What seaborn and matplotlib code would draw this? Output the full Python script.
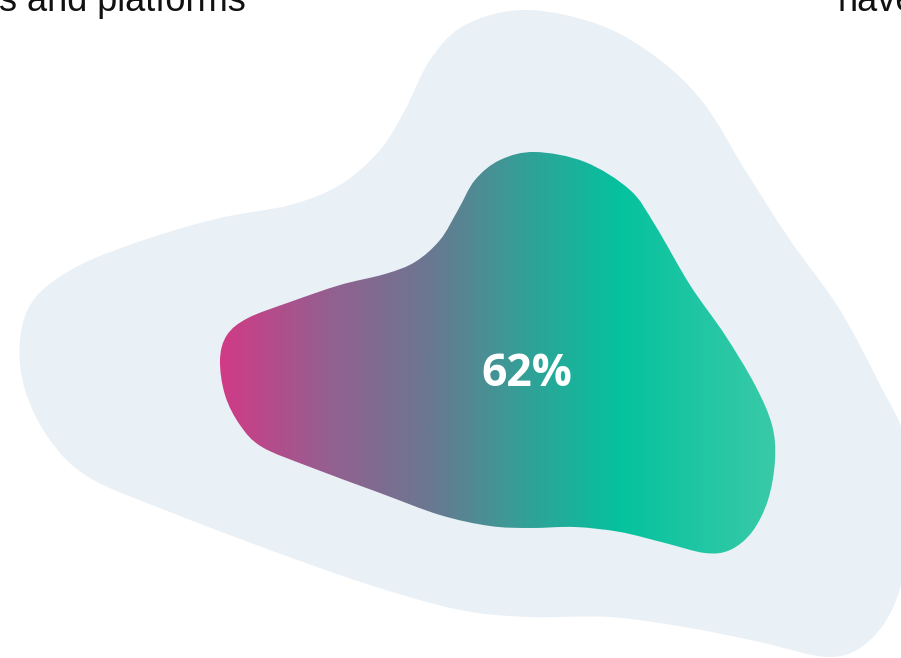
import numpy as np
import seaborn as sns
import matplotlib.pyplot as plt
from matplotlib.path import Path
from matplotlib.patches import PathPatch
from matplotlib.colors import LinearSegmentedColormap

plt.switch_backend("Agg")

# headline value
value_label = "62%"

# outline key points of the background blob (pixel coords, y down)
outer_x = [525, 600, 660, 705, 745, 790, 840, 880, 905, 910, 898, 870, 830, 760, 690,
           610, 530, 460, 370, 270, 170, 90, 50, 25, 20, 35, 80, 150, 220, 290, 340,
           380, 405, 430, 465]
outer_y = [10, 25, 60, 105, 170, 240, 310, 385, 440, 520, 595, 640, 657, 642, 628,
           617, 617, 610, 585, 550, 512, 478, 440, 390, 340, 298, 265, 238, 218, 205,
           185, 150, 110, 60, 25]

# outline key points of the gradient blob
inner_x = [535, 585, 630, 655, 690, 725, 755, 772, 775, 768, 752, 730, 705, 665, 620,
           575, 530, 490, 440, 380, 310, 262, 240, 225, 220, 227, 248, 290, 340,
           385, 415, 440, 458, 475, 500]
inner_y = [152, 162, 190, 225, 285, 335, 385, 425, 460, 500, 532, 550, 553, 543, 532,
           527, 528, 526, 515, 493, 467, 447, 425, 395, 360, 335, 318, 302, 285,
           274, 262, 240, 210, 180, 160]

# gradient stops (position across the blob, colour)
grad_pos = [0.0, 0.2, 0.38, 0.56, 0.72, 1.0]
grad_col = ["#d23a86", "#936090", "#6a7890", "#2fa298", "#05c29e", "#3acaa8"]


def blob_path(xs, ys):
    # closed Catmull-Rom outline turned into cubic Bezier segments
    pts = np.column_stack([xs, ys]).astype(float)
    n = len(pts)
    verts = [pts[0]]
    codes = [Path.MOVETO]
    for i in range(n):
        p0, p1, p2, p3 = pts[i - 1], pts[i], pts[(i + 1) % n], pts[(i + 2) % n]
        verts += [p1 + (p2 - p0) / 6, p2 - (p3 - p1) / 6, p2]
        codes += [Path.CURVE4] * 3
    return Path(verts, codes)


sns.set_theme(style="white")

fig = plt.figure(figsize=(9.01, 6.58), dpi=100)
ax = fig.add_axes([0, 0, 1, 1])
ax.set_xlim(0, 901)
ax.set_ylim(658, 0)
ax.axis("off")

outer = PathPatch(blob_path(outer_x, outer_y), facecolor="#e9f0f6", edgecolor="none")
ax.add_patch(outer)

inner_path = blob_path(inner_x, inner_y)
inner = PathPatch(inner_path, facecolor="none", edgecolor="none")
ax.add_patch(inner)

cmap = LinearSegmentedColormap.from_list("blob", list(zip(grad_pos, grad_col)))
x0, x1 = min(inner_x) - 2, max(inner_x) + 2
y0, y1 = min(inner_y) - 2, max(inner_y) + 2
grad = np.linspace(0, 1, 512).reshape(1, -1)
img = ax.imshow(grad, cmap=cmap, extent=(x0, x1, y1, y0), aspect="auto",
                interpolation="bilinear", zorder=2)
img.set_clip_path(inner)
ax.set_xlim(0, 901)
ax.set_ylim(658, 0)

ax.text(527, 374, value_label, color="white", fontsize=32, fontweight="bold",
        family=["Open Sans", "DejaVu Sans"], ha="center", va="center", zorder=3)

# cut-off surrounding copy (the source crop slices through these lines)
fig.text(246 / 901, 1 - 11 / 658, "s and platforms", color="#111111", fontsize=26,
         family=["Liberation Sans", "DejaVu Sans"], ha="right", va="baseline")
fig.text(837 / 901, 1 - 11 / 658, "have", color="#111111", fontsize=26,
         family=["Liberation Sans", "DejaVu Sans"], ha="left", va="baseline")

plt.savefig("out.png", dpi=100)
